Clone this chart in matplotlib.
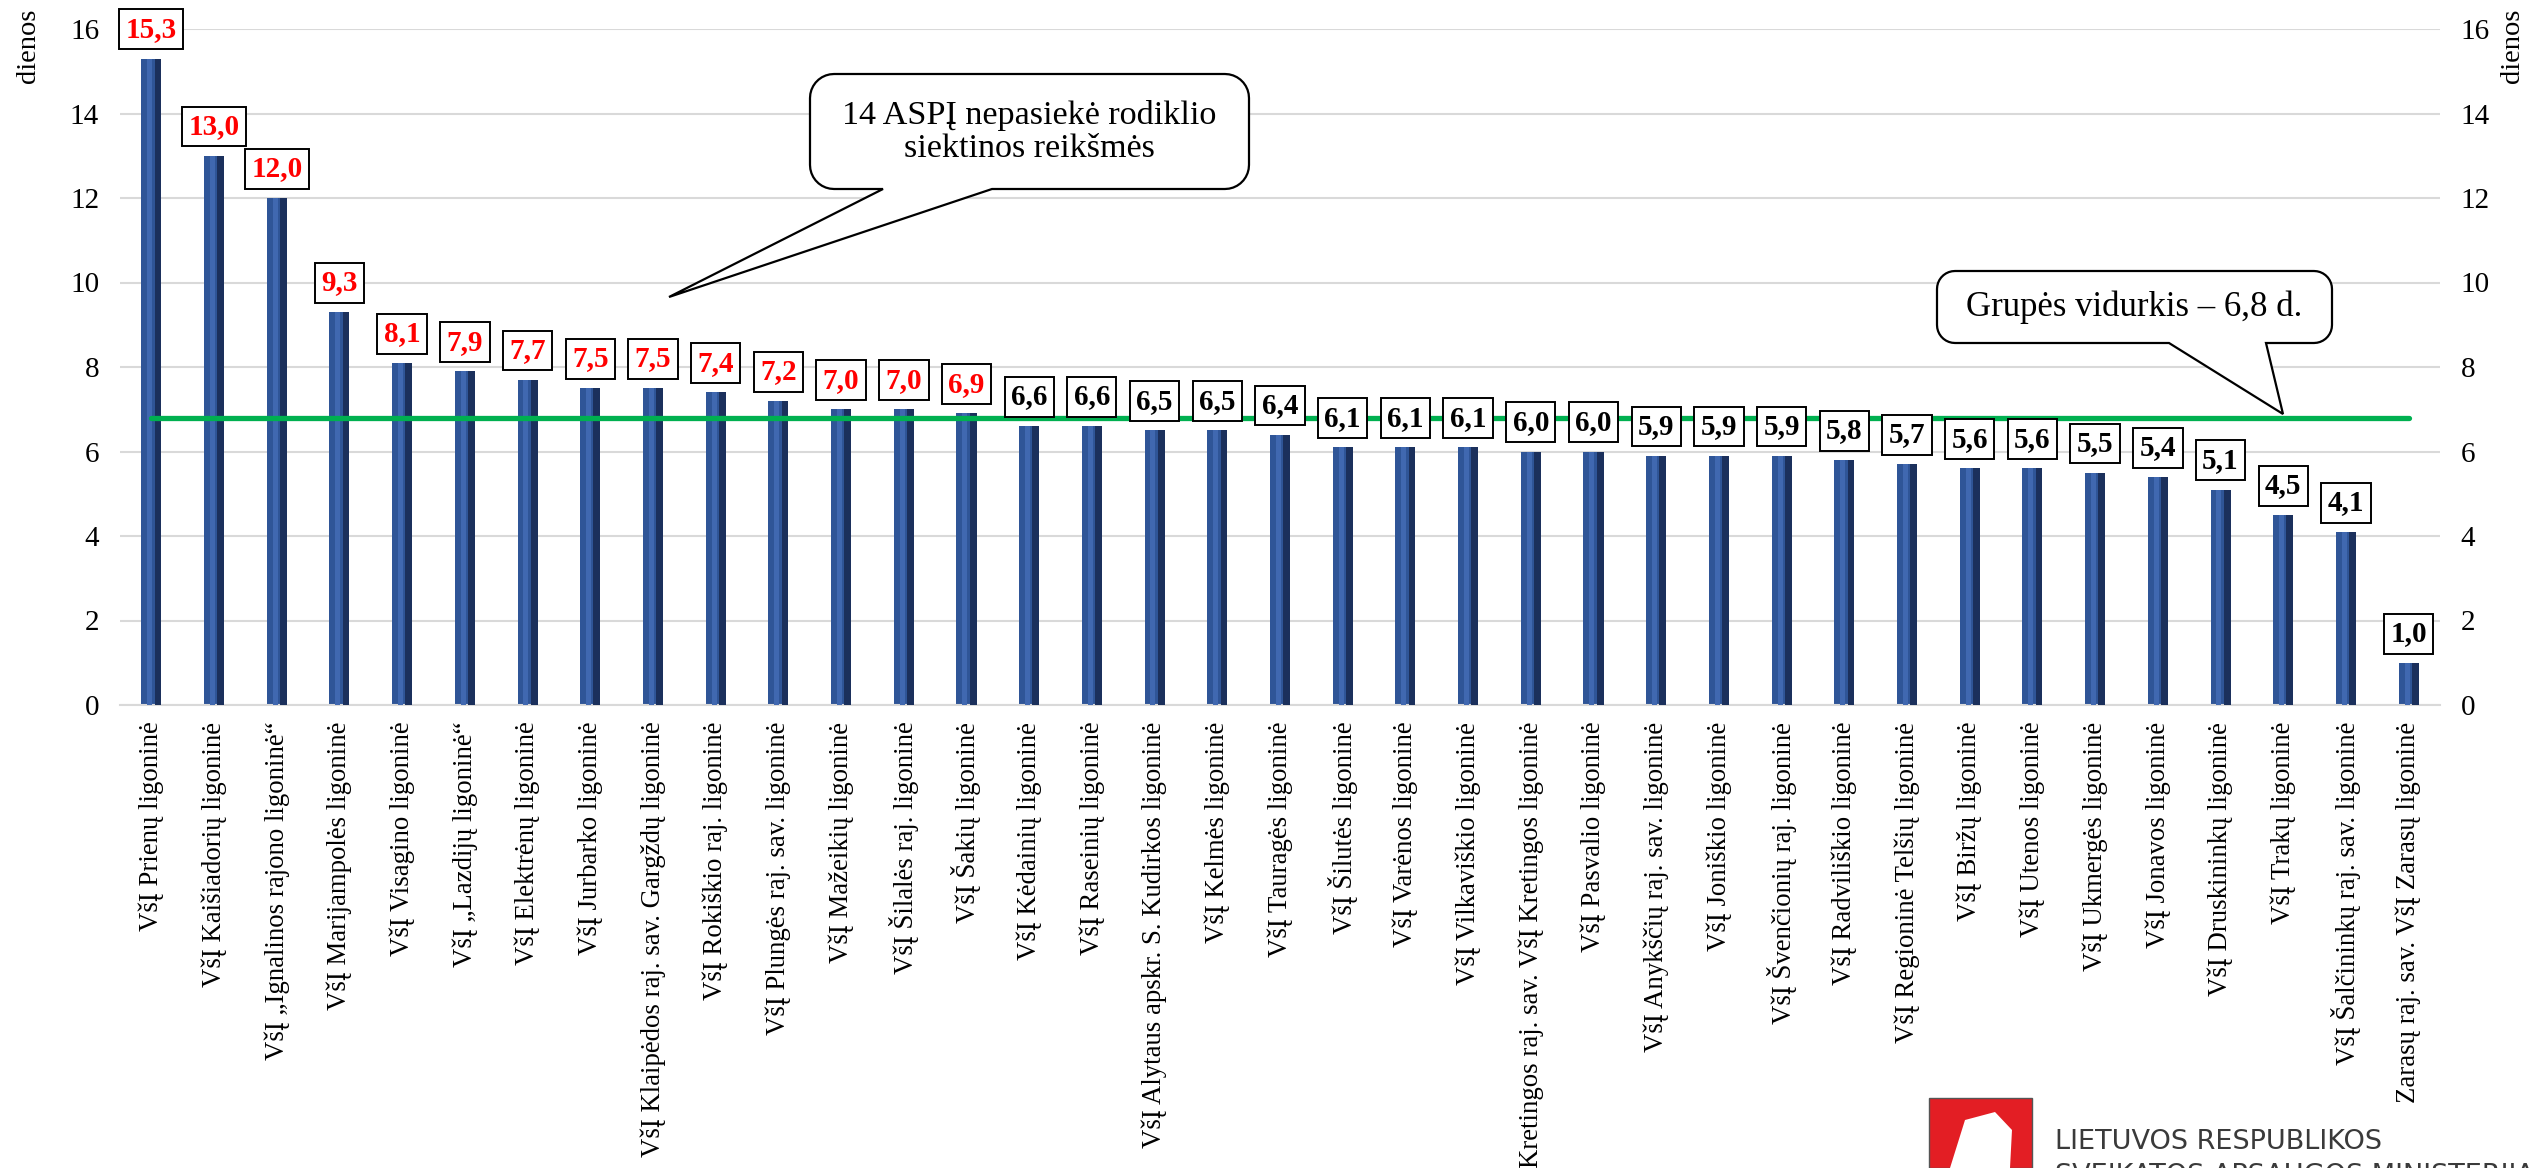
import matplotlib
matplotlib.use("Agg")
import matplotlib.pyplot as plt
import numpy as np
from matplotlib.patches import Polygon, Rectangle

plt.rcParams['font.family'] = ['Liberation Serif', 'DejaVu Serif']

# ---------------- data ----------------
hospitals = [
    "VšĮ Prienų ligoninė",
    "VšĮ Kaišiadorių ligoninė",
    "VšĮ „Ignalinos rajono ligoninė“",
    "VšĮ Marijampolės ligoninė",
    "VšĮ Visagino ligoninė",
    "VšĮ „Lazdijų ligoninė“",
    "VšĮ Elektrėnų ligoninė",
    "VšĮ Jurbarko ligoninė",
    "VšĮ Klaipėdos raj. sav. Gargždų ligoninė",
    "VšĮ Rokiškio raj. ligoninė",
    "VšĮ Plungės raj. sav. ligoninė",
    "VšĮ Mažeikių ligoninė",
    "VšĮ Šilalės raj. ligoninė",
    "VšĮ Šakių ligoninė",
    "VšĮ Kėdainių ligoninė",
    "VšĮ Raseinių ligoninė",
    "VšĮ Alytaus apskr. S. Kudirkos ligoninė",
    "VšĮ Kelmės ligoninė",
    "VšĮ Tauragės ligoninė",
    "VšĮ Šilutės ligoninė",
    "VšĮ Varėnos ligoninė",
    "VšĮ Vilkaviškio ligoninė",
    "Kretingos raj. sav. VšĮ Kretingos ligoninė",
    "VšĮ Pasvalio ligoninė",
    "VšĮ Anykščių raj. sav. ligoninė",
    "VšĮ Joniškio ligoninė",
    "VšĮ Švenčionių raj. ligoninė",
    "VšĮ Radviliškio ligoninė",
    "VšĮ Regioninė Telšių ligoninė",
    "VšĮ Biržų ligoninė",
    "VšĮ Utenos ligoninė",
    "VšĮ Ukmergės ligoninė",
    "VšĮ Jonavos ligoninė",
    "VšĮ Druskininkų ligoninė",
    "VšĮ Trakų ligoninė",
    "VšĮ Šalčininkų raj. sav. ligoninė",
    "Zarasų raj. sav. VšĮ Zarasų ligoninė",
]
days = [15.3, 13.0, 12.0, 9.3, 8.1, 7.9, 7.7, 7.5, 7.5, 7.4, 7.2, 7.0, 7.0, 6.9,
        6.6, 6.6, 6.5, 6.5, 6.4, 6.1, 6.1, 6.1, 6.0, 6.0, 5.9, 5.9, 5.9, 5.8,
        5.7, 5.6, 5.6, 5.5, 5.4, 5.1, 4.5, 4.1, 1.0]
group_average = 6.8
n_not_reached = 14
y_ticks = [0, 2, 4, 6, 8, 10, 12, 14, 16]
y_label = "dienos"
callout_target = "14 ASPĮ nepasiekė rodiklio\nsiektinos reikšmės"
callout_avg = "Grupės vidurkis – 6,8 d."

# ---------------- figure ----------------
W, H = 2529, 1168
fig = plt.figure(figsize=(W / 100, H / 100), dpi=100)
fig.patch.set_facecolor("white")

ax_l, ax_r = 120 / W, 2440 / W
ax_b, ax_t = 1 - 705 / H, 1 - 29 / H
ax = fig.add_axes([ax_l, ax_b, ax_r - ax_l, ax_t - ax_b])

x = np.arange(len(days))
vals = np.array(days)

ax.set_xlim(-0.5, len(days) - 0.5)
ax.set_ylim(0, 16)
ax.set_yticks(y_ticks)
ax.grid(axis="y", color="#D9D9D9", linewidth=1.5, zorder=0)
ax.set_axisbelow(True)
for s in ["top", "left", "right"]:
    ax.spines[s].set_visible(False)
ax.spines["bottom"].set_color("#D9D9D9")
ax.spines["bottom"].set_linewidth(1.5)

# bars (3D-like shading)
bw = 0.32
ax.bar(x, vals, width=bw, color="#2F5597", zorder=2)
ax.bar(x + bw * 0.33, vals, width=bw * 0.34, color="#1B305C", zorder=3)
ax.bar(x - bw * 0.08, vals, width=bw * 0.25, color="#4068B0", zorder=3)

# average line
ax.plot([x[0], x[-1]], [group_average, group_average], color="#00B050",
        linewidth=3.8, solid_capstyle="round", zorder=4)

# value labels
for i, v in enumerate(vals):
    col = "#FF0000" if i < n_not_reached else "black"
    ax.annotate(f"{v:.1f}".replace(".", ","), xy=(i, v), xytext=(0, 21),
                textcoords="offset points", ha="center", va="center",
                fontsize=21, fontweight="bold", color=col, zorder=6,
                bbox=dict(boxstyle="square,pad=0.22", fc="white", ec="black", lw=1.4))

# ticks
ax.set_xticks(x)
ax.set_xticklabels(hospitals, rotation=90, fontsize=19.3, va="top", ha="center")
ax.tick_params(axis="x", length=0, pad=12)
ax.tick_params(axis="y", length=0, labelsize=21, labelleft=True, labelright=True, pad=15)

# axis titles
fig.text(29 / W, 1 - 9 / H, y_label, rotation=90, ha="center", va="top", fontsize=20.5)
fig.text(2513 / W, 1 - 9 / H, y_label, rotation=90, ha="center", va="top", fontsize=20.5)


# ---------------- callouts (pixel geometry) ----------------
def callout_path(L, R, T, B, r, base_a, base_b, tip, n=10):
    pts = []
    def arc(cx, cy, a0, a1):
        for t in np.linspace(a0, a1, n):
            pts.append((cx + r * np.cos(t), cy + r * np.sin(t)))
    arc(L + r, T + r, np.pi, 1.5 * np.pi)          # top-left
    arc(R - r, T + r, 1.5 * np.pi, 2 * np.pi)      # top-right
    arc(R - r, B - r, 0, 0.5 * np.pi)              # bottom-right
    hi, lo = max(base_a, base_b), min(base_a, base_b)
    pts.append((hi, B))
    pts.append(tip)
    pts.append((lo, B))
    arc(L + r, B - r, 0.5 * np.pi, np.pi)          # bottom-left
    return np.array([(px / W, 1 - py / H) for px, py in pts])


p1 = callout_path(810, 1249, 74, 189, 24, 883, 992, (669, 297))
fig.patches.append(Polygon(p1, closed=True, transform=fig.transFigure,
                           fc="white", ec="black", lw=1.6, zorder=10))
fig.text(1029 / W, 1 - 132 / H, callout_target, ha="center", va="center",
         fontsize=24.6, linespacing=1.1, zorder=11)

p2 = callout_path(1937, 2332, 271, 343, 18, 2169, 2266, (2283, 414))
fig.patches.append(Polygon(p2, closed=True, transform=fig.transFigure,
                           fc="white", ec="black", lw=1.6, zorder=10))
fig.text(2134 / W, 1 - 307 / H, callout_avg, ha="center", va="center",
         fontsize=25, zorder=11)

# ---------------- logo ----------------
fig.patches.append(Rectangle((1929 / W, 0), (2032 - 1929) / W, (1168 - 1098) / H,
                             transform=fig.transFigure, fc="#E31E24", ec="#555555", lw=1))
fig.patches.append(Polygon(np.array([(1950, 1168), (1965, 1120), (1995, 1112), (2012, 1130),
                                     (2010, 1168)]) / [W, -H] + [0, 1],
                           closed=True, transform=fig.transFigure, fc="white", ec="none"))
fig.text(2055 / W, 1 - 1149 / H, "LIETUVOS RESPUBLIKOS", ha="left", va="baseline",
         fontsize=19.5, color="#3A3A3A", family=["DejaVu Sans"])
fig.text(2055 / W, 1 - 1183 / H, "SVEIKATOS APSAUGOS MINISTERIJA", ha="left", va="baseline",
         fontsize=19.5, color="#3A3A3A", family=["DejaVu Sans"])

fig.savefig("out.png", dpi=100, facecolor="white")
